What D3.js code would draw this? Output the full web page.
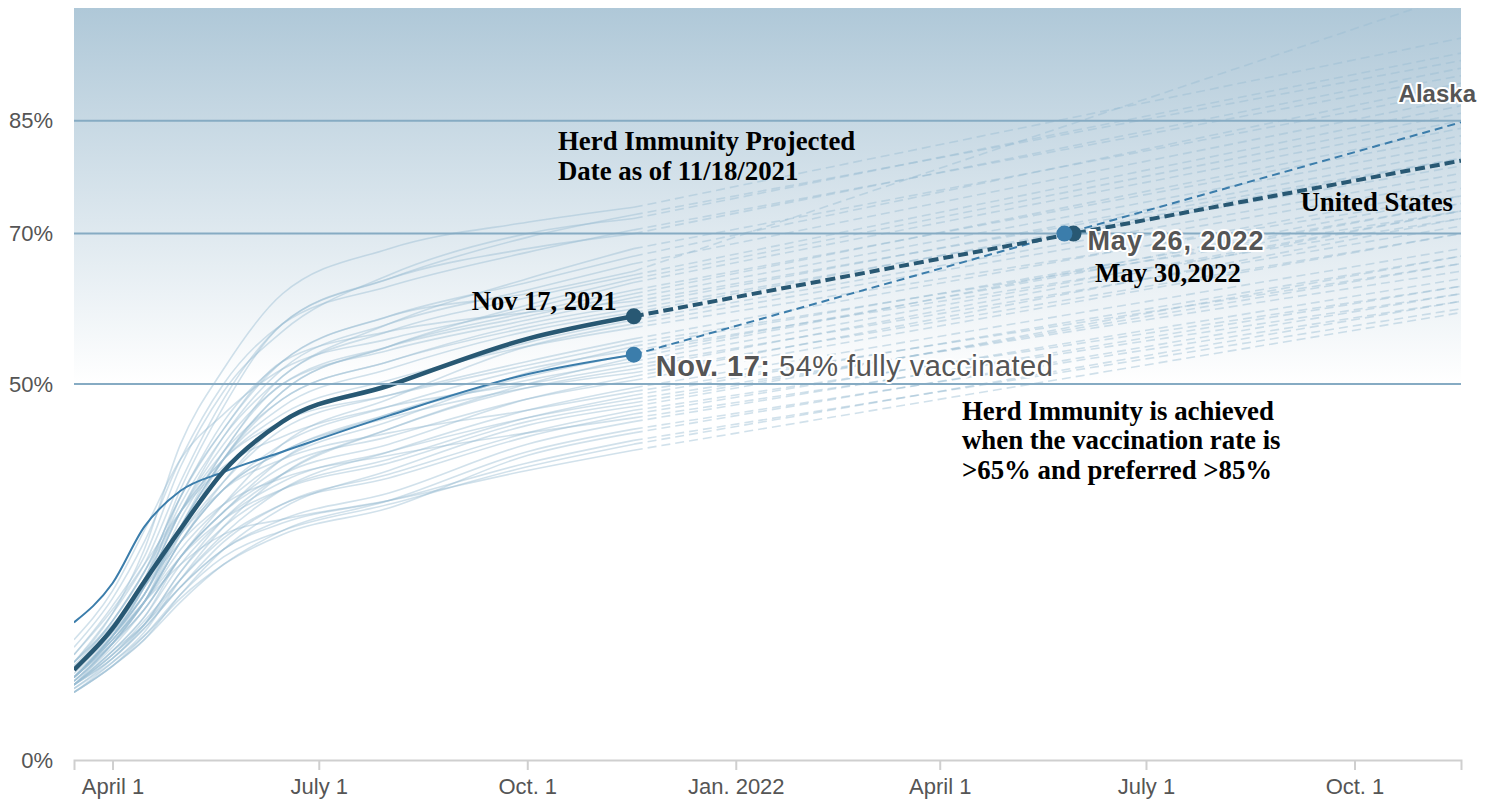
<!DOCTYPE html>
<html>
<head>
<meta charset="utf-8">
<script src="https://cdn.jsdelivr.net/npm/d3@7"></script>
<style>
  body { margin: 0; background: #fff; }
  .sans { font-family: "Liberation Sans", Helvetica, Arial, sans-serif; }
  .serif { font-family: "Liberation Serif", "Times New Roman", serif; font-weight: bold; fill: #000; }
</style>
</head>
<body>
<svg></svg>
<script>
"use strict";

// Data
const keyDates = ["2021-03-15", "2021-04-01", "2021-04-15", "2021-05-01", "2021-05-20",
                  "2021-06-15", "2021-08-01", "2021-10-01", "2021-11-17"];
const projDate = "2022-11-17";

const usValues = [12, 17.5, 23.7, 30.7, 38.4, 45, 49.8, 56, 59];
const usProjected = 79.7;
const alaskaValues = [18.3, 23.5, 31, 35.8, 38.3, 41, 45.8, 51.3, 53.9];
const alaskaProjected = 84.8;

const herdLevel = 70;
const herdDates = ["2022-05-26", "2022-05-30"]; // Alaska, United States

const stateNames = ["VT", "RI", "ME", "CT", "MA", "NY", "NJ", "MD", "HI", "WA", "VA", "NM",
  "OR", "CO", "CA", "NH", "DE", "MN", "PA", "IL", "FL", "WI", "NE", "IA", "KS", "MI", "NV",
  "UT", "AZ", "SD", "TX", "OH", "NC", "KY", "SC", "MT", "MO", "IN", "OK", "GA", "TN", "AR",
  "ND", "LA", "AL", "MS", "WY", "ID", "WV"];

const stateValues = [
  [13, 19.5, 28, 42, 52, 62, 68, 71.5, 73.5],
  [12, 17.5, 24, 36, 47, 58, 64, 69.5, 72.5],
  [14, 20.5, 27, 39, 49, 57, 64.5, 70, 72],
  [15, 21.5, 29, 40, 50, 58, 63, 67.5, 70.5],
  [13, 19.5, 26, 37, 48, 58, 64, 68, 70],
  [12, 17.5, 24, 34, 43, 51, 58, 64, 68],
  [12, 18.5, 25, 35, 44, 53, 59, 63.5, 67],
  [11, 16.5, 23, 33, 43, 52, 58, 62.5, 66],
  [13, 18.5, 25, 35, 45, 53, 59, 62, 65],
  [11, 16.5, 22, 32, 41, 51, 57, 61.5, 64.5],
  [11, 16.5, 22, 31, 40, 49, 55, 60.5, 64],
  [16, 22.5, 30.5, 40, 46, 52, 56, 60, 63.5],
  [10.5, 15.5, 21, 30, 40, 49, 55, 59.5, 62.5],
  [11, 16.5, 23, 33, 42, 50, 55, 59, 62],
  [10, 15.5, 21, 31, 41, 50, 54.5, 58.5, 61.5],
  [11, 16.5, 23, 35, 44, 53, 57, 59.5, 61],
  [11.5, 16.5, 22, 31, 40, 48, 53, 58, 60.5],
  [12, 17.5, 23, 33, 41, 48, 53, 57.5, 60],
  [11, 16.5, 22, 31, 40, 47, 52, 57, 59.5],
  [10.5, 15.5, 21, 29, 37, 45, 50, 55.5, 58.5],
  [11, 15.5, 20, 27, 34, 42, 48, 55, 58],
  [12, 17.5, 24, 33, 40, 46, 50.5, 55, 57.5],
  [12, 17, 22, 30, 37, 44, 48.5, 53, 56],
  [12.5, 18.5, 25, 33, 40, 45, 48.5, 52.5, 55.5],
  [11, 16, 21, 28, 34, 40, 45, 51.5, 55],
  [10.5, 15.5, 21, 29, 36, 42, 47, 52, 54.5],
  [10, 14.5, 19, 27, 33, 40, 46, 51, 54],
  [9.5, 13.5, 18, 25, 32, 38, 44, 50, 53.5],
  [11, 16, 21, 29, 36, 41, 46, 50.5, 53],
  [14, 20, 26, 33, 39, 43, 47, 50, 52.5],
  [9, 13, 17, 24, 31, 38, 44, 49.5, 52],
  [11, 16, 21, 29, 36, 41, 45.5, 49.5, 51.5],
  [11, 15.5, 20, 27, 33, 38, 42, 48, 51],
  [10.5, 15, 20, 27, 33, 39, 43, 48, 50.5],
  [10, 14.5, 18, 24, 30, 36, 41, 46.5, 49.5],
  [12, 17, 23, 30, 36, 40, 43.5, 46.5, 49],
  [10, 14, 18, 25, 31, 36, 40, 45.5, 48.5],
  [10, 14.5, 19, 26, 32, 37, 41, 45.5, 48],
  [11, 16, 21, 27, 32, 36, 39.5, 45, 47.5],
  [9, 12.5, 16, 22, 28, 33.5, 38.5, 44.5, 47],
  [10, 13.5, 17.5, 23, 29, 34, 38, 43.5, 46.5],
  [10, 14, 18.5, 24, 29.5, 34, 37.5, 43, 46],
  [13, 18, 23, 29, 34, 37.5, 40.5, 43.5, 45.5],
  [10, 13.5, 17.5, 23, 28, 32, 35.5, 42, 45],
  [9, 12.5, 16, 21, 26, 30.5, 34.5, 41, 44],
  [9.5, 13, 16.5, 21.5, 26, 30, 33.5, 40.5, 43.5],
  [10, 14, 18, 23, 28, 31.5, 34.5, 39.5, 42.5],
  [9, 12.5, 16.5, 22, 27, 30.5, 34, 39, 42],
  [12, 16.5, 21, 26, 30, 32, 34.5, 38.5, 41.2]
];

const stateProjected = [96, 93, 94, 91, 92, 89, 90, 88, 102, 87, 86, 85, 83, 84, 82, 80, 81,
  79, 80, 78, 77, 75, 76, 73, 74, 72, 74, 75, 73, 71, 73, 70, 72, 70, 68, 66, 67, 65, 66, 67,
  63, 64, 62, 63, 61, 62, 60, 61, 59.5];

const yTicks = [0, 50, 70, 85];
const gridLevels = [50, 70, 85];
const xTickDates = ["2021-04-01", "2021-07-01", "2021-10-01", "2022-01-01",
                    "2022-04-01", "2022-07-01", "2022-10-01"];
const xTickLabels = ["April 1", "July 1", "Oct. 1", "Jan. 2022", "April 1", "July 1", "Oct. 1"];

// Sizes and chart options
const margin = { l: 74, r: 34, t: 8, b: 40 };
const W = 1495, H = 800;
const width = W - margin.l - margin.r;
const height = H - margin.t - margin.b;

const parse = d3.timeParse("%Y-%m-%d");
const dates = keyDates.map(parse);
const endDate = parse(projDate);

const svgRoot = d3.select("svg").attr("width", W).attr("height", H);
const defs = svgRoot.append("defs");
const svg = svgRoot.append("g")
  .attr("transform", `translate(${margin.l}, ${margin.t})`);

// Scales
const xScale = d3.scaleTime()
  .domain([dates[0], endDate])
  .range([0, width]);

const yScale = d3.scaleLinear()
  .domain([0, 100])
  .range([height, 0]);

// Background gradient above the 50% line
const grad = defs.append("linearGradient")
  .attr("id", "bg")
  .attr("gradientUnits", "userSpaceOnUse")
  .attr("x1", 0).attr("x2", 0)
  .attr("y1", 0).attr("y2", yScale(50));
grad.append("stop").attr("offset", 0).attr("stop-color", "#afc8d8");
grad.append("stop").attr("offset", 1).attr("stop-color", "#ffffff");

defs.append("clipPath").attr("id", "plot")
  .append("rect").attr("width", width).attr("height", height);

svg.append("rect")
  .attr("width", width)
  .attr("height", yScale(50))
  .attr("fill", "url(#bg)");

// Axes
const xAxis = svg.append("g")
  .attr("transform", `translate(0, ${height})`)
  .call(d3.axisBottom(xScale)
    .tickValues(xTickDates.map(parse))
    .tickFormat((d, i) => xTickLabels[i])
    .tickSize(10)
    .tickPadding(8));
xAxis.select(".domain").attr("stroke", "#cfcfcf").attr("stroke-width", 2);
xAxis.selectAll(".tick line").attr("stroke", "#cfcfcf").attr("stroke-width", 2);
xAxis.selectAll("text")
  .attr("class", "sans")
  .attr("font-size", 22)
  .attr("fill", "#555");

const yAxis = svg.append("g")
  .call(d3.axisLeft(yScale)
    .tickValues(yTicks)
    .tickFormat(d => d + "%")
    .tickSize(0)
    .tickPadding(21));
yAxis.select(".domain").remove();
yAxis.selectAll("text")
  .attr("class", "sans")
  .attr("font-size", 22)
  .attr("fill", "#555");

// Line builders
const line = d3.line()
  .x(d => xScale(d[0]))
  .y(d => yScale(d[1]))
  .curve(d3.curveMonotoneX);

const solid = vals => vals.map((v, i) => [dates[i], v]);
const proj = (vals, end) => [[dates[dates.length - 1], vals[vals.length - 1]], [endDate, end]];

const plot = svg.append("g").attr("clip-path", "url(#plot)");

// States
const states = plot.append("g")
  .attr("fill", "none")
  .attr("stroke", "#98bcd2")
  .attr("stroke-opacity", 0.45)
  .attr("stroke-width", 1.6);

states.selectAll(".state")
  .data(stateValues)
  .join("path")
    .attr("class", "state")
    .attr("d", d => line(solid(d)));

states.selectAll(".proj")
  .data(stateValues)
  .join("path")
    .attr("class", "proj")
    .attr("stroke-dasharray", "9,5")
    .attr("d", (d, i) => line(proj(d, stateProjected[i])));

// Grid lines
svg.append("g")
  .selectAll("line")
  .data(gridLevels)
  .join("line")
    .attr("x1", 0)
    .attr("x2", width)
    .attr("y1", d => yScale(d))
    .attr("y2", d => yScale(d))
    .attr("stroke", "#86abc3")
    .attr("stroke-width", 2);

// Alaska and United States
const akColor = "#3b7dab";
const usColor = "#285873";

plot.append("path")
  .attr("d", line(solid(alaskaValues)))
  .attr("fill", "none")
  .attr("stroke", akColor)
  .attr("stroke-width", 2);
plot.append("path")
  .attr("d", line(proj(alaskaValues, alaskaProjected)))
  .attr("fill", "none")
  .attr("stroke", akColor)
  .attr("stroke-width", 2)
  .attr("stroke-dasharray", "8,5");

plot.append("path")
  .attr("d", line(solid(usValues)))
  .attr("fill", "none")
  .attr("stroke", usColor)
  .attr("stroke-width", 4.5);
plot.append("path")
  .attr("d", line(proj(usValues, usProjected)))
  .attr("fill", "none")
  .attr("stroke", usColor)
  .attr("stroke-width", 4)
  .attr("stroke-dasharray", "10,5");

// Dots
const last = dates[dates.length - 1];
const dots = [
  { d: last, v: usValues[usValues.length - 1], c: usColor },
  { d: last, v: alaskaValues[alaskaValues.length - 1], c: akColor },
  { d: parse(herdDates[1]), v: herdLevel, c: usColor },
  { d: parse(herdDates[0]), v: herdLevel, c: akColor }
];
svg.append("g")
  .selectAll("circle")
  .data(dots)
  .join("circle")
    .attr("cx", d => xScale(d.d))
    .attr("cy", d => yScale(d.v))
    .attr("r", 8)
    .attr("fill", d => d.c);

// Annotations
const halo = sel => sel
  .attr("stroke", "#fff")
  .attr("stroke-width", 4)
  .attr("stroke-linejoin", "round")
  .attr("paint-order", "stroke");

const serifText = (x, y, str, size) => svg.append("text")
  .attr("class", "serif")
  .attr("x", x).attr("y", y)
  .attr("font-size", size)
  .text(str);

serifText(484, 142, "Herd Immunity Projected", 26.8);
serifText(484, 172, "Date as of 11/18/2021", 26.8);
serifText(xScale(last) - 17, 302, "Nov 17, 2021", 26.5).attr("text-anchor", "end");
serifText(1021, 274, "May 30,2022", 26.8);
serifText(width - 8, 203, "United States", 26.8).attr("text-anchor", "end");
serifText(888, 412, "Herd Immunity is achieved", 26.8);
serifText(888, 441, "when the vaccination rate is", 26.8);
serifText(888, 471, ">65% and preferred >85%", 26.8);

const nov = svg.append("text")
  .attr("class", "sans")
  .attr("x", xScale(last) + 22)
  .attr("y", 368)
  .attr("font-size", 29)
  .attr("letter-spacing", 0.5)
  .attr("fill", "#555")
  .call(halo);
nov.append("tspan").attr("font-weight", "bold").text("Nov. 17:");
nov.append("tspan").text(" 54% fully vaccinated");

svg.append("text")
  .attr("class", "sans")
  .attr("x", xScale(parse(herdDates[0])) + 23)
  .attr("y", 242)
  .attr("font-size", 27)
  .attr("letter-spacing", 1)
  .attr("font-weight", "bold")
  .attr("fill", "#555")
  .call(halo)
  .text("May 26, 2022");

svg.append("text")
  .attr("class", "sans")
  .attr("x", width + 15)
  .attr("y", 94)
  .attr("text-anchor", "end")
  .attr("font-size", 24)
  .attr("font-weight", "bold")
  .attr("fill", "#555")
  .call(halo)
  .text("Alaska");
</script>
</body>
</html>
